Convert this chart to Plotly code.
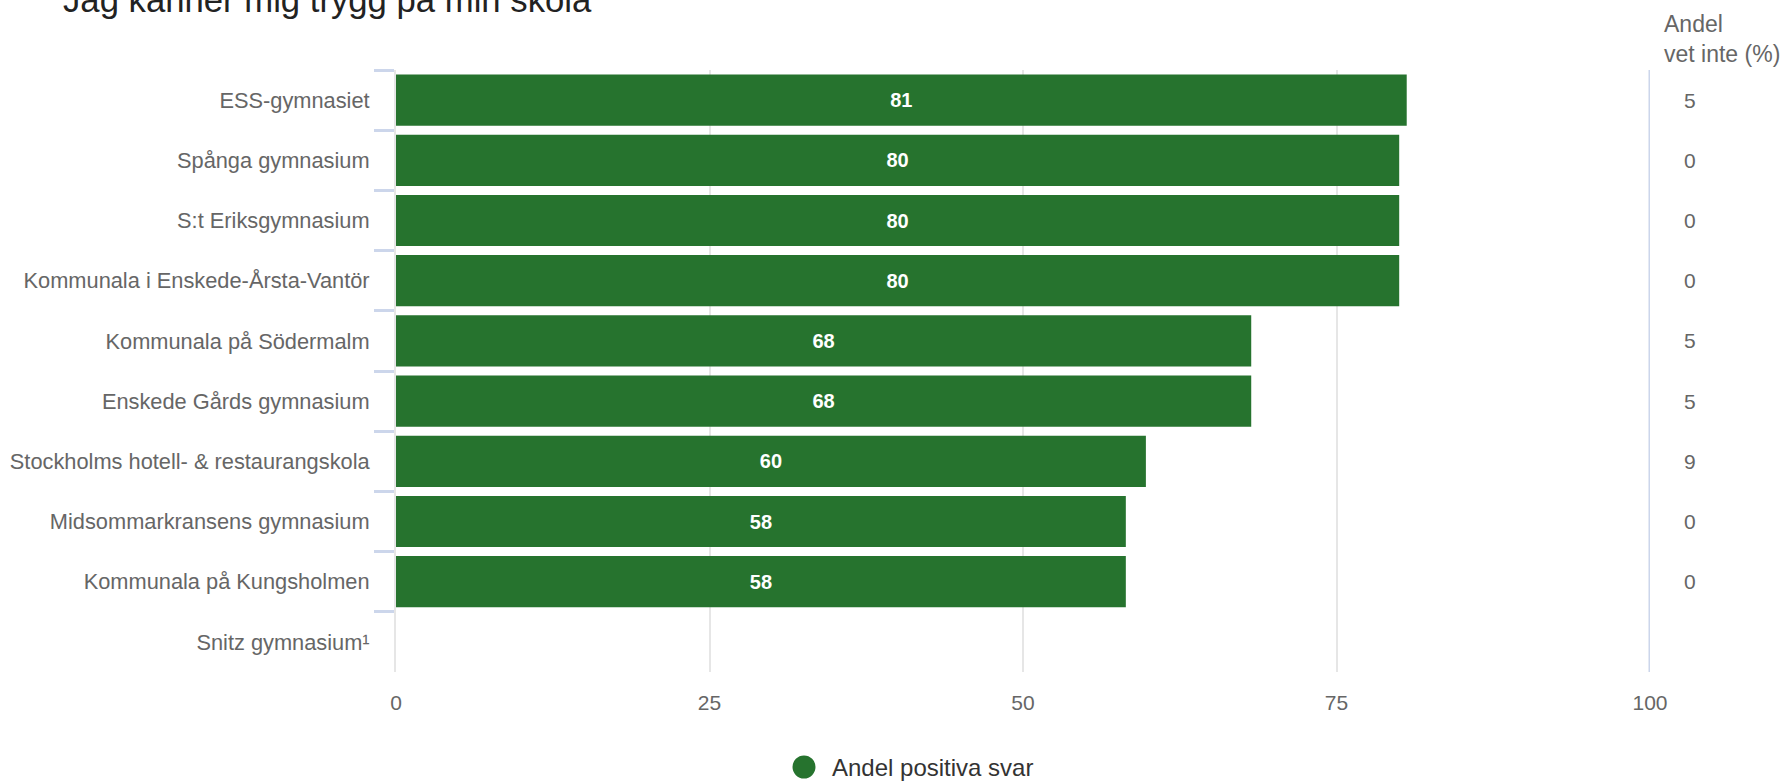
import plotly.graph_objects as go

# ---- data ----
schools = [
    "ESS-gymnasiet",
    "Spånga gymnasium",
    "S:t Eriksgymnasium",
    "Kommunala i Enskede-Årsta-Vantör",
    "Kommunala på Södermalm",
    "Enskede Gårds gymnasium",
    "Stockholms hotell- & restaurangskola",
    "Midsommarkransens gymnasium",
    "Kommunala på Kungsholmen",
    "Snitz gymnasium¹",
]
andel_positiva = [80.6, 80.0, 80.0, 80.0, 68.2, 68.2, 59.8, 58.2, 58.2, None]
andel_vet_inte = ["5", "0", "0", "0", "5", "5", "9", "0", "0", ""]
x_ticks = [0, 25, 50, 75, 100]

title_text = "Jag känner mig trygg på min skola"
series_name = "Andel positiva svar"
right_header = "Andel<br>vet inte (%)"

# ---- style ----
GREEN = "#26732e"
FONT = "Liberation Sans, Arial, Helvetica, sans-serif"
W, H = 1787, 783
ML, MR, MT, MB = 396, 137, 70, 111
PW, PH = W - ML - MR, H - MT - MB

fig = go.Figure()
fig.add_trace(go.Bar(
    y=schools, x=andel_positiva, orientation="h", name=series_name,
    marker=dict(color=GREEN, line=dict(width=0)),
    texttemplate="%{x:.0f}", textposition="inside", insidetextanchor="middle",
    textfont=dict(color="white", size=20, family=FONT, weight="bold"),
    constraintext="none", showlegend=False, hoverinfo="skip",
))

annotations = []
for s, v in zip(schools, andel_vet_inte):
    if v:
        annotations.append(dict(
            xref="paper", yref="y", x=1 + 32 / PW, y=s,
            xanchor="left", yanchor="middle", text=v, showarrow=False,
            font=dict(size=21, color="#666666", family=FONT),
        ))
annotations.append(dict(
    xref="paper", yref="paper", x=1 + 12 / PW, y=1 + 31 / PH,
    xanchor="left", yanchor="middle", align="left", text=right_header, showarrow=False,
    font=dict(size=23, color="#666666", family=FONT),
))
# legend (symbol + label)
LEG_CX, LEG_CY, LEG_R = 804, 767, 11.5
annotations.append(dict(
    xref="paper", yref="paper", x=(830 - ML) / PW, y=(H - MB - LEG_CY) / PH,
    xanchor="left", yanchor="middle", text=series_name, showarrow=False,
    font=dict(size=24, color="#333333", family=FONT),
))
shapes = [
    dict(type="line", xref="x", yref="paper", x0=100, x1=100, y0=0, y1=1,
         line=dict(color="#ccd6eb", width=3), layer="above"),
    dict(type="circle", xref="paper", yref="paper",
         x0=(LEG_CX - LEG_R - ML) / PW, x1=(LEG_CX + LEG_R - ML) / PW,
         y0=(H - MB - LEG_CY - LEG_R) / PH, y1=(H - MB - LEG_CY + LEG_R) / PH,
         fillcolor=GREEN, line=dict(width=0)),
]

fig.update_layout(
    width=W, height=H,
    margin=dict(l=ML, r=MR, t=MT, b=MB, pad=0, autoexpand=False),
    paper_bgcolor="white", plot_bgcolor="white",
    font=dict(family=FONT, color="#666666"),
    title=dict(text=title_text, x=63 / W, xanchor="left", xref="container",
               y=1.0, yanchor="middle", yref="container",
               font=dict(size=34.7, color="#222222", family=FONT)),
    bargap=0.15,
    showlegend=False,
    xaxis=dict(range=[0, 100], tickvals=x_ticks, showgrid=True, gridcolor="#e6e6e6",
               gridwidth=2, zeroline=False, showline=False, ticks="",
               tickfont=dict(size=21, color="#666666"), ticklabelstandoff=16,
               fixedrange=True),
    yaxis=dict(type="category", categoryorder="array", categoryarray=schools,
               autorange="reversed", showgrid=False, zeroline=False,
               showline=True, linecolor="#e6e6e6", linewidth=2,
               ticks="outside", tickson="boundaries", ticklen=20, tickwidth=3,
               tickcolor="#ccd6eb", tickfont=dict(size=21.8, color="#666666"),
               ticklabelstandoff=20, fixedrange=True),
    shapes=shapes,
    annotations=annotations,
)

fig.write_html("out.html", config={"displayModeBar": False},
               post_script="document.body.style.margin='0';document.body.style.overflow='hidden';")
